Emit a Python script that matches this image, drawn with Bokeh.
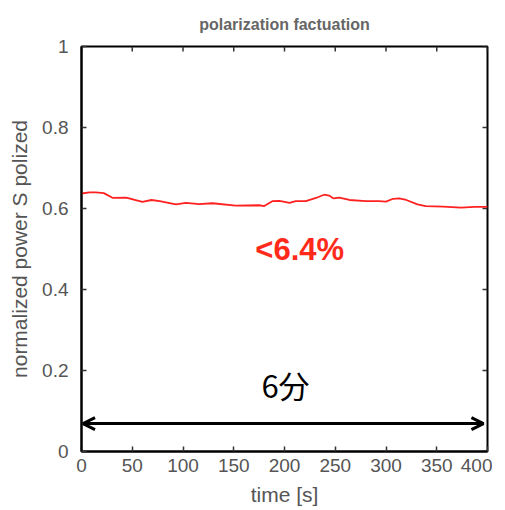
import math
from bokeh.plotting import figure
from bokeh.models import FixedTicker, Arrow, OpenHead, Label, Range1d
from bokeh.embed import file_html
from bokeh.resources import INLINE

# data
time_s = [0, 8, 14, 22, 31, 44, 60, 69, 77, 93, 103, 116, 129, 152, 175, 180, 188, 195,
          205, 211, 221, 231, 239, 244, 248, 254, 264, 280, 293, 300, 307, 313, 320,
          331, 339, 356, 374, 387, 400]
power = [0.637, 0.640, 0.640, 0.638, 0.626, 0.627, 0.6165, 0.621, 0.618, 0.610, 0.614,
         0.611, 0.613, 0.607, 0.608, 0.606, 0.618, 0.619, 0.614, 0.618, 0.618, 0.626,
         0.634, 0.632, 0.625, 0.627, 0.621, 0.618, 0.618, 0.617, 0.624, 0.625, 0.621,
         0.610, 0.606, 0.6045, 0.602, 0.604, 0.604]

x_ticks = [0, 50, 100, 150, 200, 250, 300, 350, 400]
y_ticks = [0, 0.2, 0.4, 0.6, 0.8, 1]
y_tick_labels = ["0", "0.2", "0.4", "0.6", "0.8", "1"]
x_max = 400
y_max = 1

title_text = "polarization factuation"
x_label = "time [s]"
y_label = "normalized power S polized"
pct_text = "<6.4%"
pct_pos = (215, 0.50)
dur_text = "6分"
dur_pos = (201, 0.165)
arrow_x = (1.5, 396)
arrow_y = 0.069

FONT = "Liberation Sans"
GRAY = "#555555"

p = figure(frame_width=406, frame_height=405, output_backend="svg", toolbar_location=None,
           x_range=Range1d(0, x_max), y_range=Range1d(0, y_max),
           min_border_left=81, min_border_right=5, min_border_top=46, min_border_bottom=40,
           x_axis_label=x_label, y_axis_label=y_label)

p.title.text = title_text
p.title.align = "center"
p.title.text_font = FONT
p.title.text_font_size = "16px"
p.title.text_font_style = "bold"
p.title.text_color = "#666666"
p.title.standoff = 27

p.grid.visible = False
p.outline_line_color = "black"
p.outline_line_width = 2
p.outline_line_alpha = 1

for ax in (p.xaxis[0], p.yaxis[0]):
    ax.axis_line_color = "black"
    ax.axis_line_width = 2
    ax.major_tick_in = 5
    ax.major_tick_out = 0
    ax.minor_tick_line_color = None
    ax.major_tick_line_color = "#333333"
    ax.major_tick_line_width = 1.5
    ax.major_label_text_font = FONT
    ax.major_label_text_font_size = "19px"
    ax.major_label_text_color = GRAY
    ax.axis_label_text_font = FONT
    ax.axis_label_text_font_size = "21px"
    ax.axis_label_text_font_style = "normal"
    ax.axis_label_text_color = GRAY

p.xaxis[0].ticker = FixedTicker(ticks=x_ticks)
p.yaxis[0].ticker = FixedTicker(ticks=y_ticks)
p.yaxis[0].major_label_overrides = dict(zip(y_ticks, y_tick_labels))
p.xaxis[0].major_label_standoff = 7
p.xaxis[0].axis_label_standoff = 8
p.yaxis[0].major_label_standoff = 13
p.yaxis[0].axis_label_standoff = 8

# mirrored inward ticks on top and right edges
p.ray(x=x_ticks, y=[y_max] * len(x_ticks), length=5, length_units="screen",
      angle=-math.pi / 2, line_color="#333333", line_width=1.5)
p.ray(x=[x_max] * len(y_ticks), y=y_ticks, length=5, length_units="screen",
      angle=math.pi, line_color="#333333", line_width=1.5)

p.line(time_s, power, line_color="#ff2020", line_width=1.8)

p.add_layout(Label(x=pct_pos[0], y=pct_pos[1], text=pct_text, text_align="center",
                   text_baseline="middle", text_font=FONT, text_font_size="31px",
                   text_font_style="bold", text_color="#ff2a1a"))
p.add_layout(Label(x=dur_pos[0], y=dur_pos[1], text=dur_text, text_align="center",
                   text_baseline="middle", text_font="Noto Sans CJK JP", text_font_size="31px",
                   text_color="black"))

p.add_layout(Arrow(x_start=arrow_x[0], x_end=arrow_x[1], y_start=arrow_y, y_end=arrow_y,
                   line_width=3, line_color="black",
                   start=OpenHead(size=12, line_width=3, line_color="black"),
                   end=OpenHead(size=12, line_width=3, line_color="black")))

open("out.html", "w").write(file_html(p, INLINE))
